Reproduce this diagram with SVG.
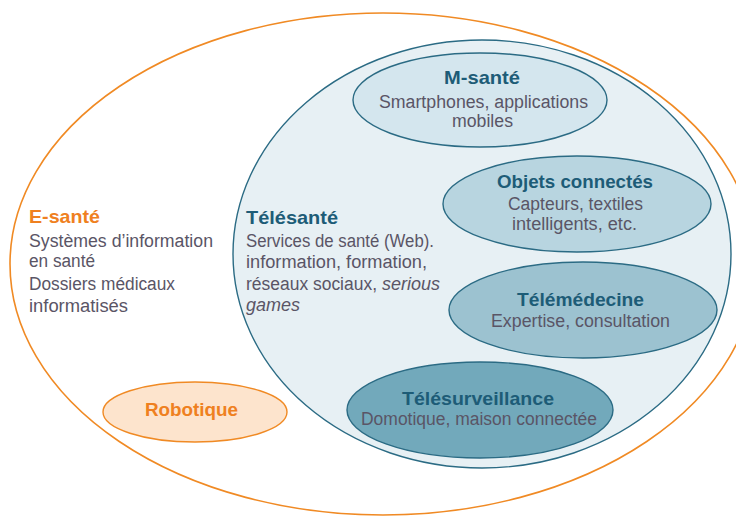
<svg xmlns="http://www.w3.org/2000/svg" width="736" height="518" viewBox="0 0 736 518">
<style>
text{font-family:"Liberation Sans",Arial,sans-serif;}
.t{font-size:19px;font-weight:bold;fill:#1d5c77;}
.b{font-size:18px;fill:#5a5566;}
.bo{font-size:19px;font-weight:bold;fill:#ef8020;}
.i{font-style:italic;}
.m{text-anchor:middle;}
.e{stroke:#2b6b84;stroke-width:1.4;}
</style>
<rect width="736" height="518" fill="#ffffff"/>
<g id="e-sante">
<ellipse cx="383" cy="264" rx="373" ry="251" fill="#ffffff" stroke="#f08a24" stroke-width="1.6"/>
<text class="bo" x="29" y="223" textLength="71" lengthAdjust="spacingAndGlyphs">E-santé</text>
<text class="b" x="29" y="247" textLength="184" lengthAdjust="spacingAndGlyphs">Systèmes d’information</text>
<text class="b" x="29" y="267" textLength="66" lengthAdjust="spacingAndGlyphs">en santé</text>
<text class="b" x="29" y="290" textLength="146" lengthAdjust="spacingAndGlyphs">Dossiers médicaux</text>
<text class="b" x="29" y="312" textLength="99" lengthAdjust="spacingAndGlyphs">informatisés</text>
</g>
<g id="telesante">
<ellipse class="e" cx="482" cy="254" rx="249" ry="214" fill="#e7f0f4"/>
<text class="t" x="246" y="224" textLength="92" lengthAdjust="spacingAndGlyphs">Télésanté</text>
<text class="b" x="246" y="247" textLength="188" lengthAdjust="spacingAndGlyphs">Services de santé (Web).</text>
<text class="b" x="246" y="268" textLength="181" lengthAdjust="spacingAndGlyphs">information, formation,</text>
<text class="b" x="246" y="290" textLength="131" lengthAdjust="spacingAndGlyphs">réseaux sociaux,</text>
<text class="b i" x="382" y="290" textLength="58" lengthAdjust="spacingAndGlyphs">serious</text>
<text class="b i" x="246" y="311" textLength="54" lengthAdjust="spacingAndGlyphs">games</text>
</g>
<g id="robotique">
<ellipse cx="195" cy="412" rx="92" ry="30" fill="#fde4cd" stroke="#f08a24" stroke-width="1.4"/>
<text class="bo m" x="191.5" y="416" textLength="93" lengthAdjust="spacingAndGlyphs">Robotique</text>
</g>
<g id="m-sante">
<ellipse class="e" cx="480" cy="100" rx="127" ry="47" fill="#d4e6ee"/>
<text class="t m" x="482" y="84" textLength="76" lengthAdjust="spacingAndGlyphs">M-santé</text>
<text class="b m" x="483.5" y="108" textLength="209" lengthAdjust="spacingAndGlyphs">Smartphones, applications</text>
<text class="b m" x="482.5" y="127" textLength="61" lengthAdjust="spacingAndGlyphs">mobiles</text>
</g>
<g id="objets-connectes">
<ellipse class="e" cx="577" cy="204" rx="134" ry="48" fill="#b8d5e0"/>
<text class="t m" x="575" y="188" textLength="156" lengthAdjust="spacingAndGlyphs">Objets connectés</text>
<text class="b m" x="575.5" y="210" textLength="135" lengthAdjust="spacingAndGlyphs">Capteurs, textiles</text>
<text class="b m" x="574.5" y="230" textLength="125" lengthAdjust="spacingAndGlyphs">intelligents, etc.</text>
</g>
<g id="telemedecine">
<ellipse class="e" cx="583" cy="310" rx="134" ry="48" fill="#9cc2d0"/>
<text class="t m" x="580.5" y="306" textLength="127" lengthAdjust="spacingAndGlyphs">Télémédecine</text>
<text class="b m" x="580.5" y="327" textLength="179" lengthAdjust="spacingAndGlyphs">Expertise, consultation</text>
</g>
<g id="telesurveillance">
<ellipse class="e" cx="480" cy="410" rx="133" ry="48" fill="#72a9bb"/>
<text class="t m" x="478" y="405" textLength="152" lengthAdjust="spacingAndGlyphs">Télésurveillance</text>
<text class="b m" x="479" y="425" textLength="236" lengthAdjust="spacingAndGlyphs">Domotique, maison connectée</text>
</g>
<g id="connectors"></g>
</svg>
